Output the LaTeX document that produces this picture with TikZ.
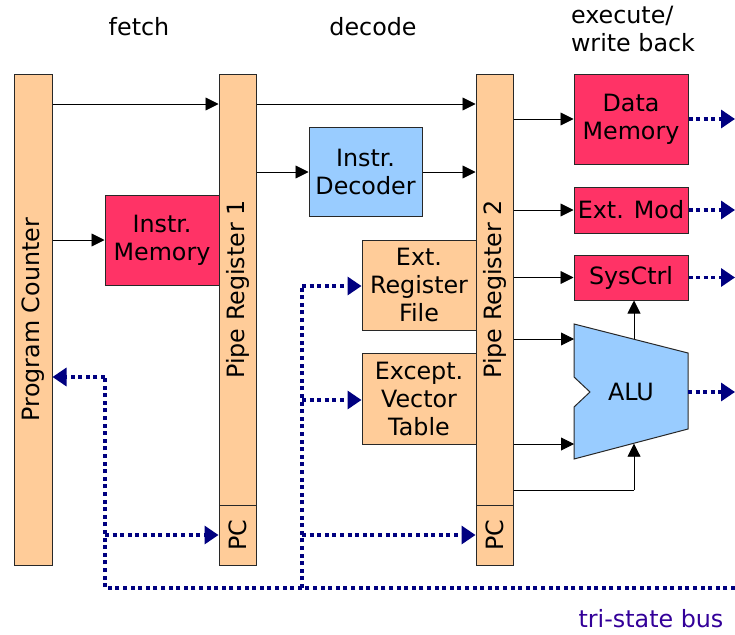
\documentclass[tikz,border=0pt]{standalone}
\usepackage{fontspec}
\setmainfont{DejaVu Sans}
\usetikzlibrary{arrows.meta,calc}
\definecolor{orangebox}{RGB}{255,204,153}
\definecolor{redbox}{RGB}{255,51,102}
\definecolor{bluebox}{RGB}{153,204,255}
\definecolor{busnavy}{RGB}{0,0,128}
\definecolor{buslabel}{RGB}{51,0,153}
\definecolor{edge}{RGB}{40,40,40}
\begin{document}
\begin{tikzpicture}[x=1pt,y=-1pt,
  every node/.style={font=\fontsize{23.8}{28}\selectfont, inner sep=0pt},
  box/.style={draw=edge, line width=1pt, align=center, minimum width=#1},
  obox/.style={box=114pt, fill=orangebox},
  rbox/.style={box=114pt, fill=redbox},
  bbox/.style={box=113pt, fill=bluebox},
  regbar/.style={draw=edge, line width=1pt, fill=orangebox, minimum width=37pt},
  arr/.style={draw=black, line width=0.9pt, -{Triangle[length=13pt,width=13pt]}},
  conn/.style={draw=black, line width=0.9pt},
  bus/.style={draw=busnavy, line width=3.3pt, dash pattern=on 4pt off 3.6pt},
  busarr/.style={bus, -{Triangle[length=14pt,width=18pt]}},
  lbl/.style={font=\fontsize{23.8}{28}\selectfont}
]
\useasboundingbox (0,0) rectangle (735,634);

% stage labels
\node[lbl] (fetch) at (139,27) {fetch};
\node[lbl] (decode) at (373,27) {decode};
\node[lbl, align=left] (exec) at (633,29) {execute/\\write back};
\node[lbl, text=buslabel] (tsb) at (651,619) {tri-state bus};

% registers
\node[regbar, minimum width=38pt, minimum height=491pt] (pc) at (33,319.5) {};
\node[rotate=90] (pctext) at (33,319.5) {Program Counter};

\node[regbar, minimum height=431pt] (r1) at (237.5,289.5) {};
\node[rotate=90] (r1text) at (237.5,289.5) {Pipe Register 1};
\node[regbar, minimum height=60pt] (r1pc) at (237.5,535) {};
\node[rotate=90] (r1pctext) at (237.5,535) {PC};

\node[regbar, minimum height=431pt] (r2) at (494.5,289.5) {};
\node[rotate=90] (r2text) at (494.5,289.5) {Pipe Register 2};
\node[regbar, minimum height=60pt] (r2pc) at (494.5,535) {};
\node[rotate=90] (r2pctext) at (494.5,535) {PC};

% functional blocks
\node[rbox, minimum height=90pt] (im) at (162,240) {Instr.\\Memory};
\node[bbox, minimum height=89pt] (dec) at (365.5,171.5) {Instr.\\Decoder};
\node[obox, minimum height=90pt] (erf) at (419,285) {Ext.\\Register\\File};
\node[obox, minimum height=91pt] (evt) at (419,398.5) {Except.\\Vector\\Table};
\node[rbox, minimum height=90pt] (dm) at (631,119) {Data\\Memory};
\node[rbox, minimum height=46pt] (em) at (631,210) {Ext. Mod};
\node[rbox, minimum height=45pt] (sc) at (631,277.5) {SysCtrl};

% ALU
\draw[draw=edge, line width=1pt, fill=bluebox]
  (574,324) -- (688,353) -- (688,429) -- (574,459) -- (574,407) -- (590,392) -- (574,377) -- cycle;
\node (alu) at (631,392) {ALU};
\coordinate (aluTop) at (634,339.3);
\coordinate (aluBot) at (634,443.7);
\coordinate (aluIn1) at (574,339);
\coordinate (aluIn2) at (574,444);
\coordinate (aluOut) at (688,392);
\coordinate (aluCorner) at (634,490);

% helper rows
\coordinate (y104) at (0,104);
\coordinate (y172) at (0,172);
\coordinate (y240) at (0,240);
\coordinate (y490) at (0,490);

% solid connectors
\draw[arr] (pc.east |- y104) -- (r1.west |- y104);
\draw[arr] (r1.east |- y104) -- (r2.west |- y104);
\draw[arr] (pc.east |- y240) -- (im.west);
\draw[arr] (r1.east |- y172) -- (dec.west |- y172);
\draw[arr] (dec.east |- y172) -- (r2.west |- y172);
\draw[arr] (r2.east |- dm.west) -- (dm.west);
\draw[arr] (r2.east |- em.west) -- (em.west);
\draw[arr] (r2.east |- sc.west) -- (sc.west);
\draw[arr] (r2.east |- aluIn1) -- (aluIn1);
\draw[arr] (r2.east |- aluIn2) -- (aluIn2);
\draw[conn] (r2.east |- y490) -- (aluCorner);
\draw[arr] (aluCorner) -- (aluBot);
\draw[arr] (aluTop) -- (aluTop |- sc.south);

% tri-state outputs
\coordinate (o1) at (735,119);
\coordinate (o2) at (735,210);
\coordinate (o3) at (735,277.5);
\coordinate (o4) at (735,392);
\draw[busarr] (dm.east) -- (o1);
\draw[busarr] (em.east) -- (o2);
\draw[busarr] (sc.east) -- (o3);
\draw[busarr] (aluOut) -- (o4);

% tri-state bus
\coordinate (busR) at (735,588);
\coordinate (busL) at (105,588);
\coordinate (bPC) at (105,377);
\coordinate (b1) at (105,535);
\coordinate (busM) at (302,588);
\coordinate (bTop) at (302,286);
\coordinate (bEvt) at (302,400);
\coordinate (b2) at (302,535);
\draw[bus] (busR) -- (busL) -- (bPC);
\draw[busarr] (bPC) -- (pc.east |- bPC);
\draw[busarr] (b1) -- (r1pc.west |- b1);
\draw[bus] (busM) -- (bTop);
\draw[busarr] (bTop) -- (erf.west |- bTop);
\draw[busarr] (bEvt) -- (evt.west |- bEvt);
\draw[busarr] (b2) -- (r2pc.west |- b2);
\end{tikzpicture}
\end{document}
